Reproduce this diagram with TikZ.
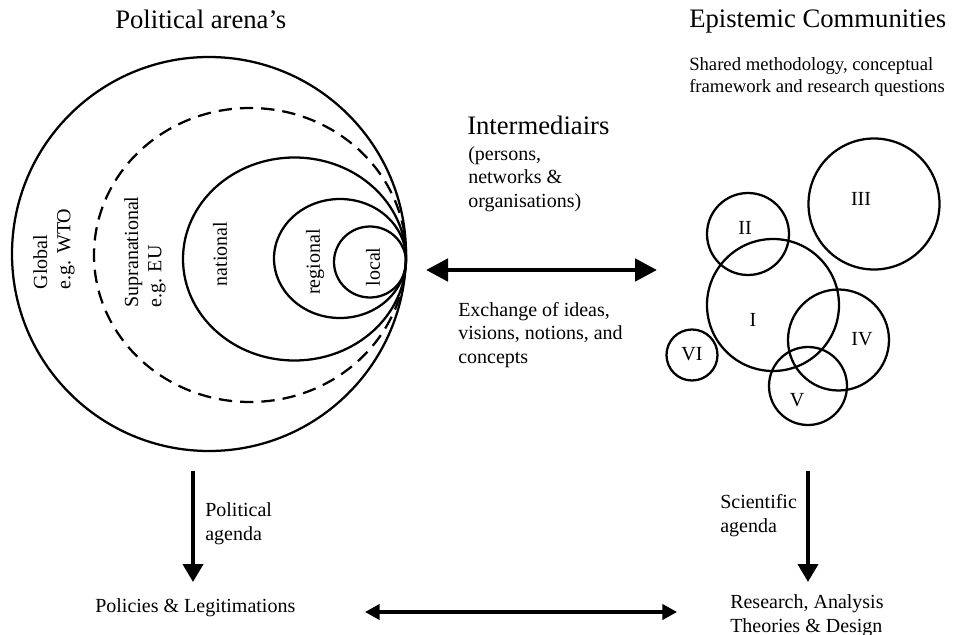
\documentclass[tikz,border=0pt]{standalone}
\usepackage{fontspec}
\setmainfont{Liberation Serif}
\usetikzlibrary{arrows.meta}

\begin{document}
\begin{tikzpicture}[x=0.75pt, y=-0.75pt,
    ring/.style={line width=1.7pt},
    txt/.style={font=\fontsize{15}{17.5}\selectfont, inner sep=0pt, align=left},
    head/.style={font=\fontsize{20}{24}\selectfont, inner sep=0pt, anchor=base west},
    side/.style={txt, rotate=90},
    bigarrow/.style={line width=3.6pt, {Triangle[length=16.5pt, width=16.5pt]}-{Triangle[length=16.5pt, width=16.5pt]}},
    downarrow/.style={line width=3pt, -{Triangle[length=13.5pt, width=15pt]}},
    linkarrow/.style={line width=2.3pt, {Triangle[length=11pt, width=11.5pt]}-{Triangle[length=11pt, width=11.5pt]}}]
    \useasboundingbox (0,0) rectangle (968,635);

    % Headings (multi-line nodes sit on the baseline of their last line)
    \node[head] (arena) at (115,29) {Political arena's};
    \node[head] (epist) at (689,28) {Epistemic Communities};
    \node[txt, font=\fontsize{14}{16.5}\selectfont, anchor=base west] (shared) at (689,93)
        {Shared methodology, conceptual\\framework and research questions};

    % Nested political levels
    \draw[ring] (209,254) circle [radius=197];
    \draw[ring, dash pattern=on 10pt off 6pt] (250,255) ellipse [x radius=156, y radius=147];
    \draw[ring] (294.5,259) ellipse [x radius=111.5, y radius=101.5];
    \draw[ring] (340,258.5) ellipse [x radius=66, y radius=59.5];
    \draw[ring] (370,262) ellipse [x radius=36, y radius=35.5];

    \node[side] (global) at (54,249) {Global\\e.g. WTO};
    \node[side] (supra) at (145,252) {Supranational\\e.g. EU};
    \node[side] (national) at (220,254) {national};
    \node[side] (regional) at (315,262) {regional};
    \node[side] (local) at (373,267) {local};

    % Intermediairs
    \node[head] (inter) at (467,135) {Intermediairs};
    \node[txt, anchor=base west] (who) at (468,207) {(persons,\\networks \&\\organisations)};
    \coordinate (xl) at (426,270);
    \coordinate (xr) at (657,270);
    \draw[bigarrow] (xl) -- (xr);
    \node[txt, anchor=base west] (ideas) at (458,363) {Exchange of ideas,\\visions, notions, and\\concepts};

    % Epistemic communities
    \foreach \cx/\cy/\r in {874/204/65.5, 748/234/41, 773/305/66, 838.5/340/50.5, 808/386/39, 692/355/25.5}
        \draw[ring] (\cx,\cy) circle [radius=\r];
    \node[txt] (c3) at (861,199) {III};
    \node[txt] (c2) at (745,228) {II};
    \node[txt] (c1) at (753,320) {I};
    \node[txt] (c4) at (862,339) {IV};
    \node[txt] (c5) at (797,400) {V};
    \node[txt] (c6) at (692,354) {VI};

    % Agendas
    \coordinate (pa) at (193,471);
    \coordinate (pb) at (193,582);
    \draw[downarrow] (pa) -- (pb);
    \node[txt, anchor=base west] (polag) at (205,540) {Political\\agenda};
    \coordinate (sa) at (808,471);
    \coordinate (sb) at (808,582);
    \draw[downarrow] (sa) -- (sb);
    \node[txt, anchor=base west] (sciag) at (720,532) {Scientific\\agenda};

    % Outcomes
    \node[txt, anchor=base west] (policies) at (95,612) {Policies \& Legitimations};
    \node[txt, anchor=base west] (research) at (730,632) {Research, Analysis\\Theories \& Design};
    \coordinate (ll) at (365,612);
    \coordinate (lr) at (677,612);
    \draw[linkarrow] (ll) -- (lr);
\end{tikzpicture}
\end{document}
